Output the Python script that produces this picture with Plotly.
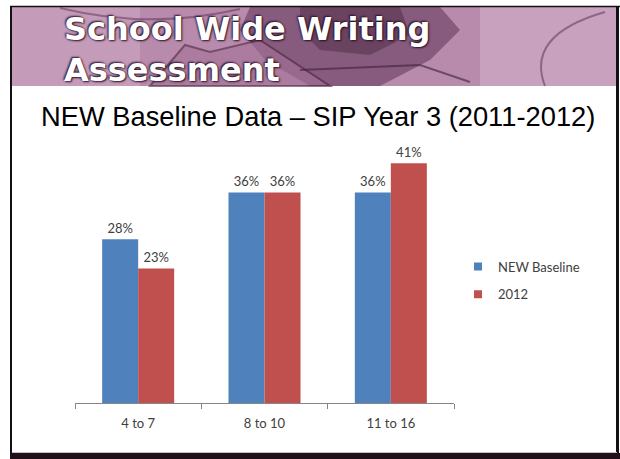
import plotly.graph_objects as go

# ---- data ----
categories = ["4 to 7", "8 to 10", "11 to 16"]
series_names = ["NEW Baseline", "2012"]
baseline_values = [28, 36, 36]
values_2012 = [23, 36, 41]
title_lines = ["School Wide Writing", "Assessment"]
subtitle = "NEW Baseline Data \u2013 SIP Year 3 (2011-2012)"

W, H = 620, 459
BLUE = "#4F81BD"
RED = "#C0504D"
TXT = "#404040"

def px(x):
    return x / W

def py(y):
    return 1 - y / H

fig = go.Figure()

for name, vals, col in [(series_names[0], baseline_values, BLUE),
                        (series_names[1], values_2012, RED)]:
    fig.add_trace(go.Bar(
        x=categories, y=vals, name=name, marker=dict(color=col, line=dict(width=0)),
        text=[f"{v}%" for v in vals], textposition="outside",
        textfont=dict(family="Lato", size=13, color=TXT),
        cliponaxis=False, showlegend=False,
    ))
    fig.add_trace(go.Scatter(
        x=[None], y=[None], mode="markers", name=name, legendgroup=name,
        marker=dict(symbol="square", size=8, color=col),
    ))

# axis geometry
base_px = 403
unit_px = 5.85
ymax = 45
top_px = base_px - ymax * unit_px

fig.update_layout(
    width=W, height=H, autosize=False,
    margin=dict(l=0, r=0, t=0, b=0),
    paper_bgcolor="white", plot_bgcolor="white",
    barmode="group", bargap=0.43, bargroupgap=0,
    xaxis=dict(domain=[px(75), px(454)], showline=True, linecolor="#868686", linewidth=1,
               ticks="outside", tickson="boundaries", ticklen=5, tickcolor="#868686",
               tickfont=dict(family="Lato", size=13, color=TXT), ticklabelstandoff=8,
               showgrid=False, zeroline=False, fixedrange=True),
    yaxis=dict(domain=[py(base_px), py(top_px)], range=[0, ymax], visible=False,
               showgrid=False, zeroline=False),
    legend=dict(x=px(458), y=py(280.5), xanchor="left", yanchor="middle",
                font=dict(family="Lato", size=13, color=TXT), bgcolor="rgba(0,0,0,0)",
                tracegroupgap=8, traceorder="grouped", itemwidth=30),
    showlegend=True,
)

def P(pts):
    s = f"M {px(pts[0][0])},{py(pts[0][1])}"
    for x, y in pts[1:]:
        s += f" L {px(x)},{py(y)}"
    return s

shapes = []
# header background (photo-like texture kept inside the banner)
HB = 86
shapes.append(dict(type="rect", xref="paper", yref="paper", x0=px(11), x1=px(617), y0=py(HB), y1=py(7),
                   fillcolor="#b88bad", line=dict(width=0), layer="below"))
shapes.append(dict(type="rect", xref="paper", yref="paper", x0=px(11), x1=px(140), y0=py(HB), y1=py(7),
                   fillcolor="#d2abc8", line=dict(width=0), opacity=0.5, layer="below"))
shapes.append(dict(type="path", xref="paper", yref="paper",
                   path=P([(250, 7), (440, 7), (460, 30), (430, 60), (380, 86), (310, 86), (265, 60), (240, 30)]) + " Z",
                   fillcolor="#5e3456", line=dict(width=0), opacity=0.55, layer="below"))
shapes.append(dict(type="path", xref="paper", yref="paper",
                   path=P([(300, 7), (400, 7), (410, 35), (370, 55), (320, 50), (300, 30)]) + " Z",
                   fillcolor="#3e2038", line=dict(width=0), opacity=0.4, layer="below"))
shapes.append(dict(type="rect", xref="paper", yref="paper", x0=px(480), x1=px(617), y0=py(HB), y1=py(7),
                   fillcolor="#dcbcd4", line=dict(width=0), opacity=0.45, layer="below"))
shapes.append(dict(type="path", xref="paper", yref="paper",
                   path=P([(150, 86), (185, 45), (210, 52), (260, 40), (330, 86)]) + " Z",
                   fillcolor="#a57299", line=dict(color="#4a2540", width=2), opacity=0.6, layer="below"))
shapes.append(dict(type="path", xref="paper", yref="paper",
                   path=P([(300, 70), (420, 65), (470, 82)]),
                   line=dict(color="#3e2038", width=2), opacity=0.6, layer="below"))
shapes.append(dict(type="path", xref="paper", yref="paper",
                   path=f"M {px(545)},{py(86)} Q {px(525)},{py(35)} {px(605)},{py(12)}",
                   line=dict(color="#6a3d60", width=2), opacity=0.6, layer="below"))
shapes.append(dict(type="path", xref="paper", yref="paper",
                   path=f"M {px(60)},{py(8)} Q {px(150)},{py(30)} {px(240)},{py(9)}",
                   line=dict(color="#5a3050", width=2), opacity=0.5, layer="below"))
# frame
shapes.append(dict(type="line", xref="paper", yref="paper", x0=px(11), x1=px(11), y0=py(459), y1=py(6),
                   line=dict(color="#111111", width=2)))
shapes.append(dict(type="line", xref="paper", yref="paper", x0=px(10), x1=px(620), y0=py(6.5), y1=py(6.5),
                   line=dict(color="#111111", width=1.5)))
shapes.append(dict(type="line", xref="paper", yref="paper", x0=px(617.5), x1=px(617.5), y0=py(459), y1=py(6),
                   line=dict(color="#111111", width=3)))
shapes.append(dict(type="rect", xref="paper", yref="paper", x0=px(10), x1=px(620), y0=0, y1=py(453),
                   fillcolor="#1e0f1a", line=dict(width=0)))
shapes.append(dict(type="line", xref="paper", yref="paper", x0=px(12), x1=px(617), y0=py(452.5), y1=py(452.5),
                   line=dict(color="#c8c0c6", width=1)))
fig.update_layout(shapes=shapes)

annotations = []
for txt, yc in zip(title_lines, [29, 70]):
    annotations.append(dict(text=txt, xref="paper", yref="paper", x=px(62), y=py(yc),
                            xanchor="left", yanchor="middle", showarrow=False,
                            font=dict(family="DejaVu Sans", size=32, color="white", weight="bold",
                                      shadow="1px 1px 2px #2a1024, -1px -1px 2px #2a1024")))
annotations.append(dict(text=subtitle, xref="paper", yref="paper", x=px(318), y=py(117),
                        xanchor="center", yanchor="middle", showarrow=False,
                        font=dict(family="Liberation Sans", size=27.3, color="black")))
fig.update_layout(annotations=annotations)

fig.write_html("out.html", config={"displayModeBar": False},
               post_script="document.body.style.margin='0';")
